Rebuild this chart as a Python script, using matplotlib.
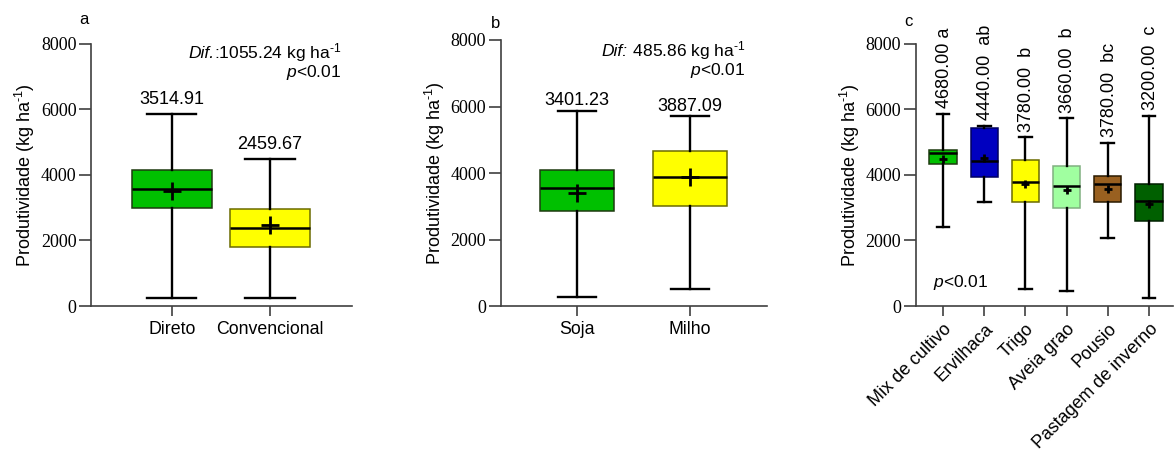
import matplotlib
matplotlib.use("Agg")
import matplotlib.pyplot as plt

plt.rcParams["font.family"] = ["Liberation Sans", "DejaVu Sans"]
plt.rcParams["mathtext.fontset"] = "custom"
plt.rcParams["mathtext.rm"] = "Liberation Sans"
plt.rcParams["mathtext.it"] = "Liberation Sans:italic"
plt.rcParams["mathtext.default"] = "regular"

# Panel a: tillage system
till_names = ["Direto", "Convencional"]
till_lo = [254, 254]
till_q1 = [2995, 1804]
till_med = [3573, 2384]
till_q3 = [4167, 2965]
till_hi = [5866, 4494]
till_mean = [3514.91, 2459.67]
till_colors = ["#00C000", "#FFFF00"]
till_edges = ["#1E3A10", "#6B6B00"]

# Panel b: summer crop
crop_names = ["Soja", "Milho"]
crop_lo = [281, 521]
crop_q1 = [2867, 3008]
crop_med = [3559, 3887.09]
crop_q3 = [4090, 4652]
crop_hi = [5875, 5714]
crop_mean = [3401.23, 3887.09]
crop_colors = ["#00C000", "#FFFF00"]
crop_edges = ["#1E3A10", "#6B6B00"]

# Panel c: winter cover
cover_names = ["Mix de cultivo", "Ervilhaca", "Trigo", "Aveia grao", "Pousio",
               "Pastagem de inverno"]
cover_lo = [2425, 3180, 530, 469, 2079, 254]
cover_q1 = [4333, 3954, 3190, 3006, 3180, 2598]
cover_med = [4680, 4440, 3780, 3660, 3740, 3200]
cover_q3 = [4770, 5433, 4465, 4272, 3965, 3720]
cover_hi = [5870, 5504, 5148, 5730, 4984, 5808]
cover_mean = [4500, 4526, 3740, 3547, 3577, 3119]
cover_labels = ["4680.00 a", "4440.00  ab", "3780.00  b", "3660.00  b",
                "3780.00  bc", "3200.00  c"]
cover_colors = ["#00C000", "#0000C0", "#FFFF00", "#A0FFA0", "#996020", "#006000"]
cover_edges = ["#1E3A10", "#000060", "#6B6B00", "#80B080", "#2A1A00", "#002000"]

y_ticks = [0, 2000, 4000, 6000, 8000]

AXIS_COLOR = "#404040"
UNIT = "kg ha$^{\\text{-1}}$"
TICK_FONT = "Liberation Serif"


def make_stats(lo, q1, med, q3, hi, mean):
    return [dict(whislo=a, q1=b, med=c, q3=d, whishi=e, mean=f, fliers=[])
            for a, b, c, d, e, f in zip(lo, q1, med, q3, hi, mean)]


def draw_panel(ax, stats, colors, edges, width, capw, msize, mew):
    pos = list(range(1, len(stats) + 1))
    bp = ax.bxp(stats, positions=pos, widths=width, capwidths=capw,
                showmeans=True, showfliers=False, patch_artist=True,
                boxprops=dict(linewidth=1.1),
                whiskerprops=dict(color="black", linewidth=1.7),
                capprops=dict(color="black", linewidth=1.7),
                medianprops=dict(color="black", linewidth=1.8),
                meanprops=dict(marker="+", markeredgecolor="black",
                               markersize=msize, markeredgewidth=mew))
    for patch, fc, ec in zip(bp["boxes"], colors, edges):
        patch.set_facecolor(fc)
        patch.set_edgecolor(ec)
    return pos


def style_axes(ax, names, rot=0, xsize=12.8):
    ax.set_ylim(0, 8000)
    ax.set_yticks(y_ticks, labels=[str(v) for v in y_ticks],
                  fontfamily=TICK_FONT, fontsize=13)
    for side in ("top", "right"):
        ax.spines[side].set_visible(False)
    for side in ("left", "bottom"):
        ax.spines[side].set_color(AXIS_COLOR)
        ax.spines[side].set_linewidth(1.2)
    ax.tick_params(axis="y", length=8.5, width=1.2, color=AXIS_COLOR, pad=2)
    ax.tick_params(axis="x", length=7, width=1.2, color=AXIS_COLOR, labelsize=xsize)
    if rot:
        ax.set_xticklabels(names, rotation=rot, ha="right", rotation_mode="anchor")
    else:
        ax.set_xticklabels(names)
    ax.set_ylabel("Produtividade (" + UNIT + ")", fontsize=13, labelpad=3)


def dif_note(ax, x, y, head, rest):
    # italic "Dif" head followed by the upright value, right-aligned as a block
    t = ax.text(x, y, rest, transform=ax.transAxes, ha="right", va="baseline",
                fontsize=12.5)
    ax.annotate(head, xy=(0, y), xycoords=(t, "axes fraction"), ha="right",
                va="baseline", fontsize=12.5, fontstyle="italic")


fig = plt.figure(figsize=(11.74, 4.53), dpi=100)
ax_a = fig.add_axes([0.0775, 0.3245, 0.2223, 0.5784])
ax_b = fig.add_axes([0.4267, 0.3245, 0.2266, 0.5872])
ax_c = fig.add_axes([0.7802, 0.3245, 0.2189, 0.5784])

# a
pos = draw_panel(ax_a, make_stats(till_lo, till_q1, till_med, till_q3, till_hi, till_mean),
                 till_colors, till_edges, 0.81, 0.5, 13, 2.0)
ax_a.set_xlim(0.176, 2.835)
style_axes(ax_a, till_names)
for x, hi, m in zip(pos, till_hi, till_mean):
    ax_a.annotate(f"{m:.2f}", (x, hi), xytext=(0, 4), textcoords="offset points",
                  ha="center", va="bottom", fontsize=13)
dif_note(ax_a, 0.96, 0.945, "Dif.", ":1055.24 " + UNIT)
ax_a.text(0.96, 0.89, "$\\mathit{p}$<0.01", transform=ax_a.transAxes,
          ha="right", va="center", fontsize=12.5)
fig.text(84 / 1174, 1 - 19 / 453, "a", ha="center", va="center", fontsize=12)

# b
pos = draw_panel(ax_b, make_stats(crop_lo, crop_q1, crop_med, crop_q3, crop_hi, crop_mean),
                 crop_colors, crop_edges, 0.65, 0.33, 13, 2.0)
ax_b.set_xlim(0.327, 2.68)
style_axes(ax_b, crop_names)
for x, hi, m in zip(pos, crop_hi, crop_mean):
    ax_b.annotate(f"{m:.2f}", (x, hi), xytext=(0, 1), textcoords="offset points",
                  ha="center", va="bottom", fontsize=13)
dif_note(ax_b, 0.92, 0.94, "Dif:", " 485.86 " + UNIT)
ax_b.text(0.92, 0.885, "$\\mathit{p}$<0.01", transform=ax_b.transAxes,
          ha="right", va="center", fontsize=12.5)
fig.text(496 / 1174, 1 - 24 / 453, "b", ha="center", va="center", fontsize=12)

# c
pos = draw_panel(ax_c, make_stats(cover_lo, cover_q1, cover_med, cover_q3, cover_hi, cover_mean),
                 cover_colors, cover_edges, 0.66, 0.31, 6, 2.0)
ax_c.set_xlim(0.345, 6.58)
style_axes(ax_c, cover_names, rot=45, xsize=12.9)
for x, hi, lab in zip(pos, cover_hi, cover_labels):
    ax_c.annotate(lab, (x, hi), xytext=(1, 4), textcoords="offset points",
                  ha="center", va="bottom", rotation=90, fontsize=13,
                  annotation_clip=False)
ax_c.text(0.175, 0.09, "$\\mathit{p}$<0.01", transform=ax_c.transAxes,
          ha="center", va="center", fontsize=12.5)
fig.text(908 / 1174, 1 - 21 / 453, "c", ha="center", va="center", fontsize=12)

fig.savefig("out.png", dpi=100)
